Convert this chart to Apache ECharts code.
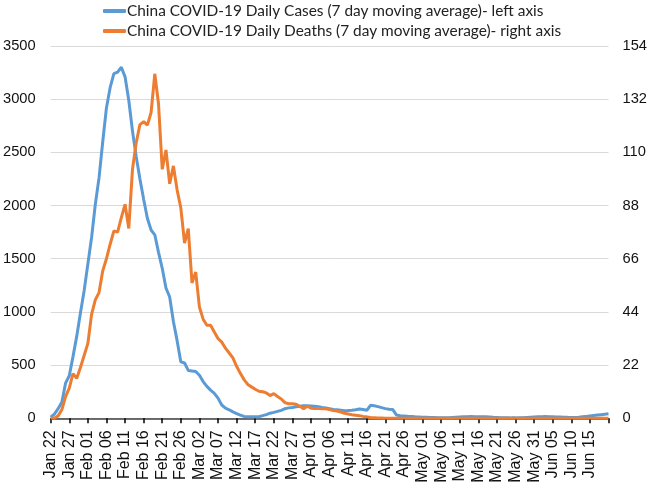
<!DOCTYPE html>
<html>
<head>
<meta charset="utf-8">
<script src="https://cdn.jsdelivr.net/npm/echarts@6/dist/echarts.min.js"></script>
<style>html,body{margin:0;padding:0;background:#fff}#c{width:650px;height:500px}</style>
</head>
<body>
<div id="c"></div>
<script>
// Categories: daily dates from Jan 22 to Jun 20 (2020)
var startDate = Date.UTC(2020, 0, 22);
var dayCount = 151;
var monthNames = ['Jan','Feb','Mar','Apr','May','Jun','Jul','Aug','Sep','Oct','Nov','Dec'];
var categories = [];
for (var i = 0; i < dayCount; i++) {
  var dt = new Date(startDate + i * 86400000);
  var dd = dt.getUTCDate();
  categories.push(monthNames[dt.getUTCMonth()] + ' ' + (dd < 10 ? '0' + dd : dd));
}

var seriesNames = [
  'China COVID-19 Daily Cases (7 day moving average)- left axis',
  'China COVID-19 Daily Deaths (7 day moving average)- right axis'
];

// Daily cases (7-day moving average), left axis
var cases = [
  10, 40, 90, 150, 330, 400, 580, 770, 990, 1200,
  1450, 1700, 2010, 2260, 2600, 2920, 3110, 3240, 3255, 3300,
  3210, 2990, 2700, 2460, 2250, 2060, 1880, 1770, 1725, 1560,
  1410, 1225, 1140, 910, 730, 530, 520, 450, 445, 440,
  405, 345, 300, 265, 235, 190, 125, 95, 80, 60,
  45, 30, 18, 15, 15, 15, 15, 25, 35, 48,
  56, 65, 75, 90, 98, 102, 108, 114, 119, 118,
  116, 113, 108, 102, 97, 90, 83, 80, 76, 72,
  73, 75, 80, 88, 82, 75, 122, 118, 110, 100,
  91, 86, 82, 30, 25, 22, 19, 17, 14, 12,
  10, 9, 8, 7, 6, 6, 5, 5, 8, 10,
  12, 14, 15, 16, 15, 15, 14, 14, 13, 10,
  8, 6, 5, 5, 4, 4, 5, 6, 8, 10,
  12, 14, 15, 16, 15, 14, 13, 12, 11, 9,
  8, 8, 10, 14, 18, 22, 26, 30, 34, 38,
  42
];

// Daily deaths (7-day moving average), right axis
var deaths = [
  0, 0, 1, 3.5, 9, 12.5, 18.5, 16.5, 21, 26,
  31, 43, 49, 52, 61, 66, 72, 77.5, 77, 83,
  88.5, 78.5, 103, 114, 121.5, 122.7, 121.3, 126.5, 142.5, 130,
  103, 111, 97, 104.4, 94.5, 87, 72.5, 78.5, 56, 60.5,
  46, 41, 38.5, 38.5, 35.7, 33, 31.5, 29, 27, 25,
  21.5, 18.6, 16, 14, 13, 12, 11.2, 11, 10.5, 9.4,
  10.2, 9, 8, 6.5, 6, 6, 5.8, 5, 4, 5,
  4.2, 4.1, 4.1, 4, 3.9, 3.6, 3.2, 3, 2.6, 2.1,
  1.8, 1.5, 1.3, 1.1, 0.8, 0.6, 0.3, 0.2, 0.1, 0.1,
  0, 0, 0, 0, 0, 0, 0, 0, 0, 0,
  0, 0, 0, 0, 0, 0, 0, 0, 0, 0,
  0, 0, 0, 0, 0, 0, 0, 0, 0, 0,
  0, 0, 0, 0, 0, 0, 0, 0, 0, 0,
  0, 0, 0, 0, 0, 0, 0, 0, 0, 0,
  0, 0, 0, 0, 0, 0, 0, 0, 0, 0,
  0
];

var chart = echarts.init(document.getElementById('c'));
chart.setOption({
  animation: false,
  backgroundColor: '#ffffff',
  color: ['#5B9BD5', '#ED7D31'],
  legend: {
    orient: 'vertical',
    left: 103,
    top: 1,
    padding: 0,
    icon: 'roundRect',
    itemWidth: 23,
    itemHeight: 4,
    itemGap: 0,
    textStyle: { fontFamily: 'Lato', fontSize: 15.4, lineHeight: 20, color: '#222', padding: [0, 0, 0, -4] },
    data: seriesNames
  },
  grid: { left: 49.3, right: 40, top: 46, bottom: 81.7 },
  xAxis: {
    type: 'category',
    boundaryGap: false,
    data: categories,
    axisLine: { lineStyle: { color: '#404040', width: 1.5 } },
    axisTick: {
      interval: function (idx) { return idx % 5 === 0; },
      length: 5,
      lineStyle: { color: '#000', width: 1.5 }
    },
    axisLabel: {
      interval: function (idx) { return idx % 5 === 0 && idx < 150; },
      rotate: 90,
      margin: 12,
      fontFamily: '"Liberation Sans", Arial, sans-serif',
      fontSize: 16,
      color: '#111'
    },
    splitLine: { show: false }
  },
  yAxis: [
    {
      type: 'value',
      min: 0, max: 3500, interval: 500,
      axisLine: { show: false },
      axisTick: { show: false },
      axisLabel: {
        margin: 15, fontFamily: '"Liberation Sans", Arial, sans-serif', fontSize: 14.7, color: '#111',
        formatter: function (v) { return String(v); }
      },
      splitLine: { lineStyle: { color: '#d9d9d9', width: 1 } }
    },
    {
      type: 'value',
      min: 0, max: 154, interval: 22,
      axisLine: { show: false },
      axisTick: { show: false },
      axisLabel: {
        margin: 14, fontFamily: '"Liberation Sans", Arial, sans-serif', fontSize: 14.7, color: '#111',
        formatter: function (v) { return String(v); }
      },
      splitLine: { show: false }
    }
  ],
  series: [
    {
      name: seriesNames[0],
      type: 'line',
      yAxisIndex: 0,
      data: cases,
      symbol: 'none',
      lineStyle: { width: 3, color: '#5B9BD5' },
      itemStyle: { color: '#5B9BD5' }
    },
    {
      name: seriesNames[1],
      type: 'line',
      yAxisIndex: 1,
      data: deaths,
      symbol: 'none',
      lineStyle: { width: 3, color: '#ED7D31' },
      itemStyle: { color: '#ED7D31' }
    }
  ]
});
</script>
</body>
</html>
